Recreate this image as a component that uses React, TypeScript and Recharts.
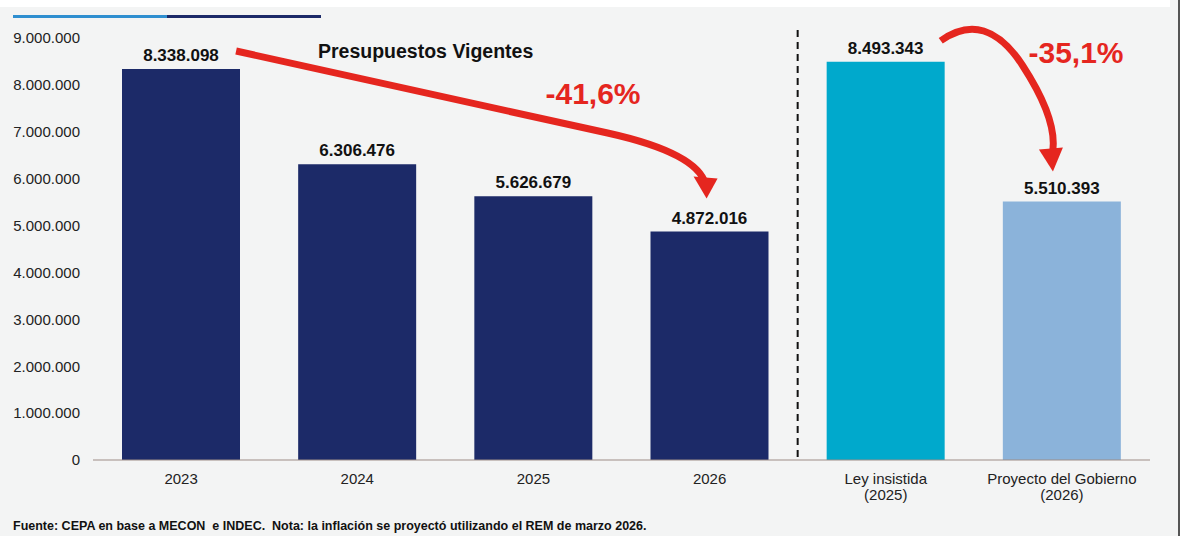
import { BarChart, Bar, XAxis, YAxis, Cell, LabelList } from 'recharts'

const categories = ['2023', '2024', '2025', '2026', 'Ley insistida|(2025)', 'Proyecto del Gobierno|(2026)']
const values = [8338098, 6306476, 5626679, 4872016, 8493343, 5510393]
const barColors = ['#1c2a68', '#1c2a68', '#1c2a68', '#1c2a68', '#00a9cc', '#8bb3da']
const yTicks = [0, 1000000, 2000000, 3000000, 4000000, 5000000, 6000000, 7000000, 8000000, 9000000]
const changes = ['-41,6%', '-35,1%']

const data = categories.map((name, i) => ({ name, value: values[i] }))

const W = 1200
const H = 536
const X_AXIS_H = 30
const M = { top: 38, right: 50, bottom: 46, left: 0 }
const Y_AXIS_W = 93
const plotLeft = M.left + Y_AXIS_W
const plotRight = W - M.right
const plotTop = M.top
const plotBottom = H - M.bottom - X_AXIS_H
const band = (plotRight - plotLeft) / categories.length
const xCenter = (i: number) => plotLeft + band * (i + 0.5)
const yPos = (v: number) => plotBottom - (v / 9000000) * (plotBottom - plotTop)

const fmt = (v: number) => String(Math.round(v)).replace(/\B(?=(\d{3})+(?!\d))/g, '.')
const FONT = '"Liberation Sans", Arial, sans-serif'
const RED = '#e5261f'

function XTick(props: any) {
  const { x, y, payload } = props
  const lines = String(payload.value).split('|')
  return (
    <text x={x} y={y + 16} textAnchor="middle" fontSize={15} fill="#222" fontFamily={FONT}>
      {lines.map((l, i) => (
        <tspan key={i} x={x} dy={i === 0 ? 0 : 16}>
          {l}
        </tspan>
      ))}
    </text>
  )
}

// arrows, divider and annotation text, placed from the same scale as the chart
function Overlay() {
  const x0 = xCenter(0) + 55
  const y0 = yPos(values[0]) - 18
  const tip1x = xCenter(3) - 2
  const tip1y = yPos(values[3]) - 37
  const x4 = xCenter(4) + 55
  const y4 = yPos(values[4]) - 21
  const tip2x = xCenter(5) - 10
  const tip2y = yPos(values[5]) - 32
  const divider = plotLeft + band * 4
  return (
    <svg width={W} height={H} style={{ position: 'absolute', left: 0, top: 0, pointerEvents: 'none' }}>
      <line x1={divider} x2={divider} y1={30} y2={plotBottom} stroke="#111" strokeWidth={2} strokeDasharray="7 5" />
      <path
        d={`M${x0},${y0} L${tip1x - 100},${y0 + 82} Q${tip1x - 10},${y0 + 102} ${tip1x - 2},${tip1y - 10}`}
        fill="none"
        stroke={RED}
        strokeWidth={7}
      />
      <polygon points={`${tip1x - 14},${tip1y - 18} ${tip1x + 10},${tip1y - 16} ${tip1x - 1},${tip1y + 4}`} fill={RED} />
      <path
        d={`M${x4},${y4} Q${x4 + 45},${y4 - 32} ${x4 + 82},${y4 + 25} T${tip2x},${tip2y - 14}`}
        fill="none"
        stroke={RED}
        strokeWidth={7}
      />
      <polygon points={`${tip2x - 13},${tip2y - 20} ${tip2x + 11},${tip2y - 22} ${tip2x + 1},${tip2y + 2}`} fill={RED} />
      <text x={593} y={104} textAnchor="middle" fontSize={30} fontWeight="bold" fill={RED} fontFamily={FONT}>
        {changes[0]}
      </text>
      <text x={1076} y={63} textAnchor="middle" fontSize={30} fontWeight="bold" fill={RED} fontFamily={FONT}>
        {changes[1]}
      </text>
      <text x={318} y={58} fontSize={19.5} fontWeight="bold" fill="#111" fontFamily={FONT}>
        Presupuestos Vigentes
      </text>
    </svg>
  )
}

export default function App() {
  return (
    <div style={{ position: 'fixed', left: 0, top: 0, width: W, height: H, background: '#f3f4f4', overflow: 'hidden', fontFamily: FONT }}>
      <div style={{ position: 'absolute', left: 0, top: 0, width: 1170, height: 7, background: '#fff' }} />
      <div style={{ position: 'absolute', left: 1178, top: 0, width: 2, height: H, background: '#555' }} />
      <div style={{ position: 'absolute', left: 1180, top: 0, width: 20, height: H, background: '#fff' }} />
      <div style={{ position: 'absolute', left: 13, top: 15, width: 154, height: 3, background: '#2f8fd0' }} />
      <div style={{ position: 'absolute', left: 167, top: 15, width: 154, height: 3, background: '#1c2a68' }} />
      <div style={{ position: 'absolute', left: 0, top: 0 }}>
        <BarChart width={W} height={H} data={data} margin={M}>
          <XAxis
            dataKey="name"
            height={X_AXIS_H}
            tick={<XTick />}
            tickLine={false}
            axisLine={{ stroke: '#9d8c86', strokeWidth: 1 }}
            interval={0}
          />
          <YAxis
            width={Y_AXIS_W}
            domain={[0, 9000000]}
            ticks={yTicks}
            tickFormatter={fmt}
            tick={{ fontSize: 15, fill: '#222', fontFamily: FONT }}
            tickMargin={7}
            axisLine={false}
            tickLine={false}
          />
          <Bar dataKey="value" barSize={118} isAnimationActive={false}>
            {data.map((d, i) => (
              <Cell key={d.name} fill={barColors[i]} />
            ))}
            <LabelList
              dataKey="value"
              position="top"
              offset={8}
              formatter={(v: any) => fmt(Number(v))}
              style={{ fontSize: 17, fontWeight: 'bold', fill: '#111', fontFamily: FONT }}
            />
          </Bar>
        </BarChart>
      </div>
      <Overlay />
      <div style={{ position: 'absolute', left: 13, top: 519, fontSize: 12.5, fontWeight: 'bold', color: '#111', whiteSpace: 'pre' }}>
        {'Fuente: CEPA en base a MECON  e INDEC.  Nota: la inflación se proyectó utilizando el REM de marzo 2026.'}
      </div>
    </div>
  )
}
